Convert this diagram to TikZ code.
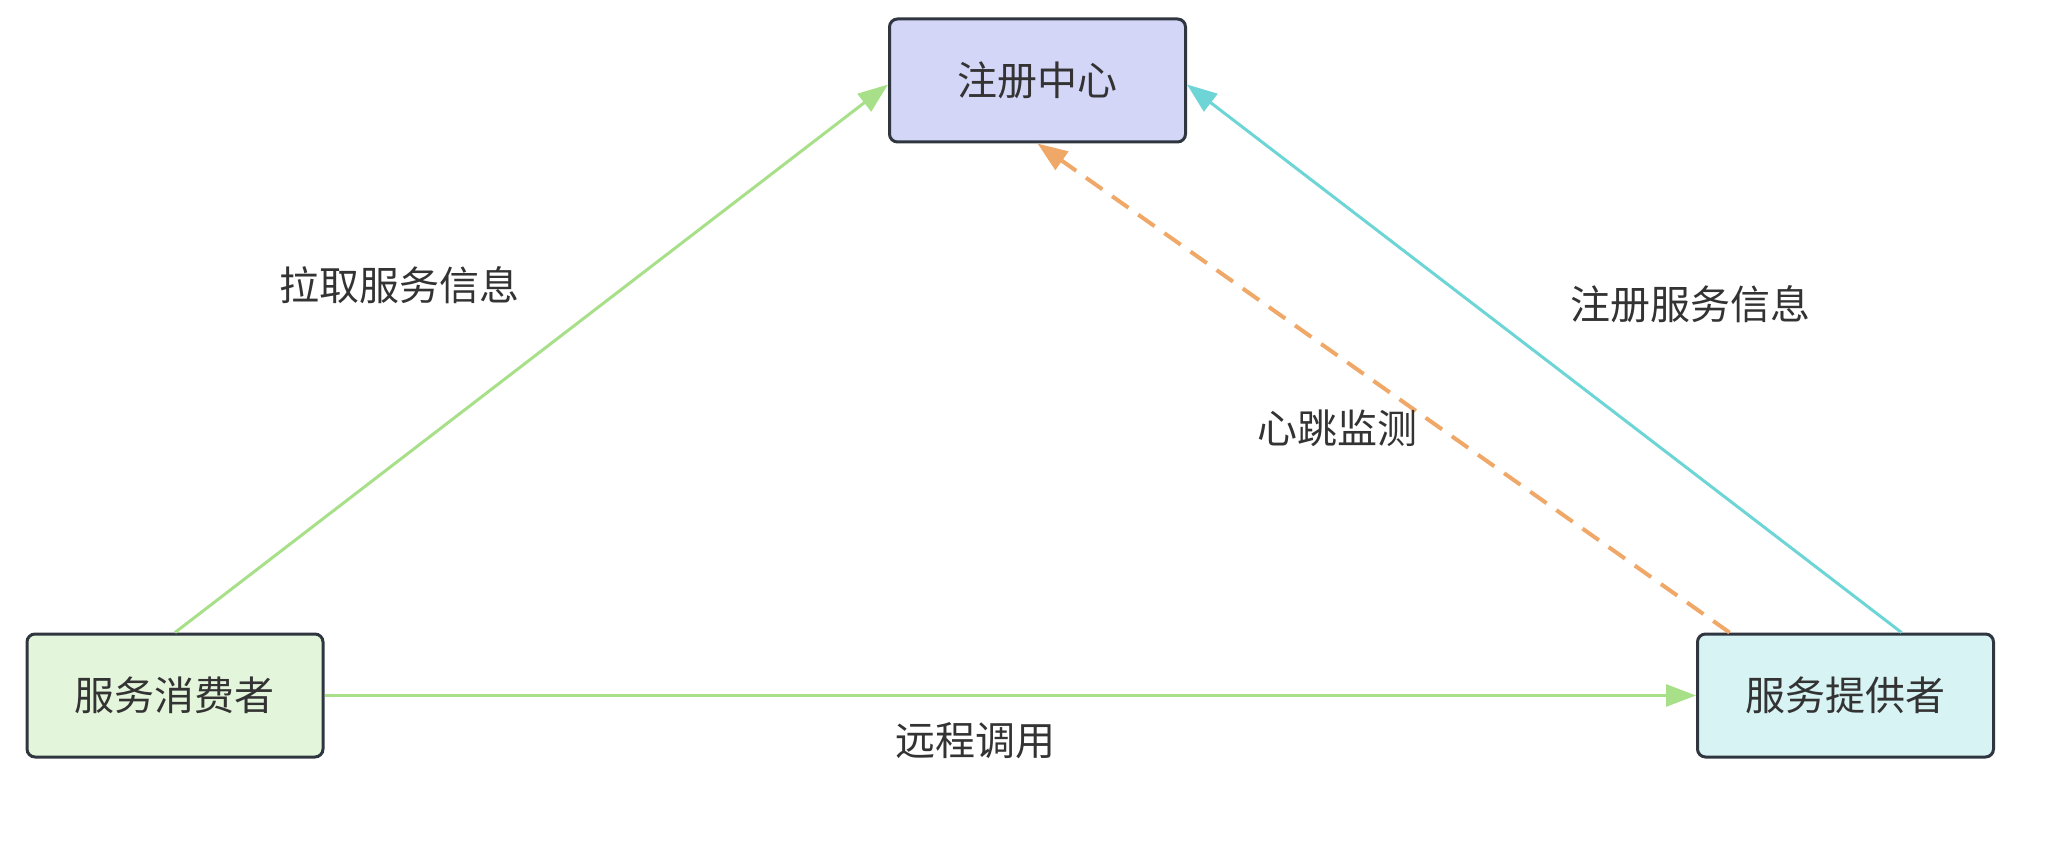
\documentclass[tikz,border=0pt]{standalone}
\usepackage{fontspec}
\setmainfont{Noto Sans CJK SC}
\usetikzlibrary{arrows.meta}

\definecolor{regfill}{HTML}{D4D6F8}
\definecolor{consfill}{HTML}{E3F5DA}
\definecolor{provfill}{HTML}{D8F3F3}
\definecolor{boxline}{HTML}{2F3640}
\definecolor{txtgray}{HTML}{333333}
\definecolor{pullgreen}{HTML}{A8E08A}
\definecolor{regteal}{HTML}{6DD5D5}
\definecolor{beatorange}{HTML}{F0A868}

\tikzset{
  svcbox/.style={draw=boxline, line width=1.5pt, rounded corners=4pt,
    minimum width=148pt, minimum height=61.5pt, inner sep=0pt,
    font=\fontsize{20pt}{24pt}\selectfont, text=txtgray},
  lbl/.style={font=\fontsize{20pt}{24pt}\selectfont, text=txtgray, inner sep=0pt},
  flow/.style={line width=1.5pt, -{Triangle[length=15pt,width=11pt]}}
}

\begin{document}
\begin{tikzpicture}[x=0.5pt,y=-0.5pt]
  \useasboundingbox (0,0) rectangle (2052,844);
  \node [svcbox, fill=regfill]  (reg)  at (1037.5,80.5) {注册中心};
  \node [svcbox, fill=consfill] (cons) at (175,695.5)   {服务消费者};
  \node [svcbox, fill=provfill] (prov) at (1845.5,695.5) {服务提供者};

  \draw [flow, pullgreen]  (cons.north) -- ([yshift=-2pt]reg.west);
  \draw [flow, regteal]    ([xshift=28pt]prov.north) -- ([yshift=-2pt]reg.east);
  \draw [flow, beatorange, line width=2pt, dash pattern=on 10pt off 6pt] ([xshift=-58pt]prov.north) -- (reg.south);
  \draw [flow, pullgreen]  (cons.east) -- (prov.west);

  \node [lbl] (pull)  at (399,285)  {拉取服务信息};
  \node [lbl] (push)  at (1690,304) {注册服务信息};
  \node [lbl] (beat)  at (1337,428) {心跳监测};
  \node [lbl] (call)  at (975,741)  {远程调用};
\end{tikzpicture}
\end{document}
